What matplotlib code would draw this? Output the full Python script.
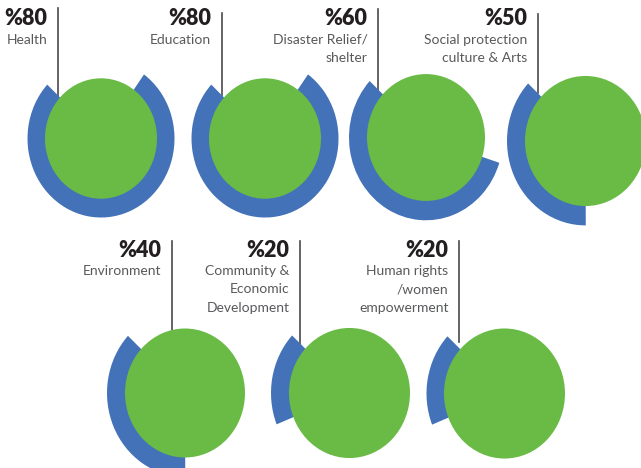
import matplotlib
matplotlib.use("Agg")
import matplotlib.pyplot as plt
from matplotlib.patches import Wedge, Circle

# values shown on the chart
percents = ["%80", "%80", "%60", "%50", "%40", "%20", "%20"]
names = [
    ["Health"],
    ["Education"],
    ["Disaster Relief/", "shelter"],
    ["Social protection", "culture & Arts"],
    ["Environment"],
    ["Community &", "Economic", "Development"],
    ["Human rights", "/women", "empowerment"],
]
# share of the ring that is drawn blue
arc_share = [0.77, 0.77, 0.57, 0.37, 0.37, 0.18, 0.18]

# layout in pixels: centre x, centre y, green radius, ring outer radius
centres_x = [101, 265, 426, 585.5, 185, 349.5, 504.5]
centres_y = [138.5, 138.5, 137.5, 141, 393, 393, 393.5]
green_r = [56, 56, 59, 60.5, 60, 60.5, 60.5]
ring_r = [73.5, 73.5, 77, 78.5, 78, 78.5, 78]
line_x = [58, 221.5, 378, 537.5, 171.5, 300, 459]
line_top = [8, 13, 9, 14, 241, 241, 241]
line_bottom = [97, 95, 90, 93, 330, 345, 342]

GREEN = '#6abb46'
BLUE = '#4372b8'
SY = 1.075  # the picture is a little taller than wide
W, H = 641, 468
START = 137

def Y(py):
    return (H - py) / SY

fig = plt.figure(figsize=(W / 100, H / 100), dpi=100)
ax = fig.add_axes([0, 0, 1, 1])
ax.set_xlim(0, W)
ax.set_ylim(0, H / SY)
ax.axis('off')

for i in range(len(percents)):
    cx = centres_x[i]
    cy = Y(centres_y[i])
    ro = ring_r[i]
    rg = green_r[i]
    ring = Wedge((cx, cy), ro, START, START + arc_share[i] * 360,
                 width=ro - rg + 3, facecolor=BLUE, edgecolor='none', zorder=1)
    ax.add_patch(ring)
    ax.add_patch(Circle((cx, cy), rg, facecolor=GREEN, edgecolor='none', zorder=2))

    lx = line_x[i]
    ax.plot([lx, lx], [Y(line_top[i]), Y(line_bottom[i])], color='#4a4a4a', lw=1.2, zorder=0)

    top_row = i < 4
    base = 25 if top_row else 256.5
    tx = lx - 10.5
    ax.text(tx, Y(base), percents[i], ha='right', va='baseline',
            fontsize=15.5, fontweight='heavy', color='#231f20', family='Lato')
    for k, line in enumerate(names[i]):
        ax.text(tx, Y(base + 18.5 + k * 18.3), line, ha='right', va='baseline',
                fontsize=10, fontweight='normal', color='#58595b', family='Lato')

fig.savefig('out.png', dpi=100)
